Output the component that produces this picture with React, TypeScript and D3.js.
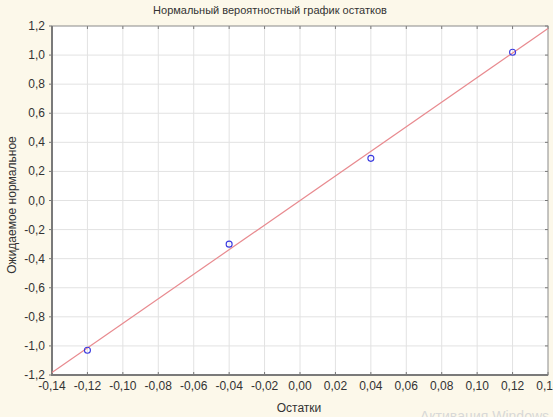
import React from "react";
import * as d3 from "d3";

const title = "Нормальный вероятностный график остатков";
const xLabel = "Остатки";
const yLabel = "Ожидаемое нормальное";
const residuals = [-0.12, -0.04, 0.04, 0.12];
const expectedNormal = [-1.03, -0.3, 0.29, 1.02];
const lineSlope = [8.45];
const lineIntercept = [0];
const xTicks = [-0.14, -0.12, -0.1, -0.08, -0.06, -0.04, -0.02, 0, 0.02, 0.04, 0.06, 0.08, 0.1, 0.12, 0.14];
const yTicks = [-1.2, -1.0, -0.8, -0.6, -0.4, -0.2, 0, 0.2, 0.4, 0.6, 0.8, 1.0, 1.2];
const watermark = "Активация Windows";

const W = 553, H = 417;
const L = 52, R = 548, T = 26, B = 375;

export default function App() {
  const x = d3.scaleLinear().domain([-0.14, 0.14]).range([L, R]);
  const y = d3.scaleLinear().domain([-1.2, 1.2]).range([B, T]);
  const fmt = (v: number, d: number) => v.toFixed(d).replace(".", ",").replace(/^-0,0+$/, (m) => m.slice(1)).replace("-0,00", "0,00");
  const lineX = x.domain();
  const linePath = d3.line<number>()
    .x((v) => x(v))
    .y((v) => y(lineSlope[0] * v + lineIntercept[0]))(lineX);
  const font = "'Liberation Sans', Arial, sans-serif";
  return (
    <svg width={W} height={H} style={{ position: "absolute", left: 0, top: 0, display: "block" }}>
      <rect width={W} height={H} fill="#fcf8ea" />
      <rect x={L} y={T} width={R - L} height={B - T} fill="#ffffff" />
      {xTicks.slice(1, -1).map((t) => (
        <line key={"gx" + t} x1={x(t)} x2={x(t)} y1={T} y2={B} stroke="#e2e2e2" strokeWidth={1} />
      ))}
      {yTicks.slice(1, -1).map((t) => (
        <line key={"gy" + t} x1={L} x2={R} y1={y(t)} y2={y(t)} stroke="#e2e2e2" strokeWidth={1} />
      ))}
      {xTicks.map((t) => (
        <g key={"tx" + t}>
          <line x1={x(t)} x2={x(t)} y1={T} y2={T + 3} stroke="#777" />
          <line x1={x(t)} x2={x(t)} y1={B} y2={B - 3} stroke="#777" />
        </g>
      ))}
      {yTicks.map((t) => (
        <g key={"ty" + t}>
          <line x1={L - 3} x2={L} y1={y(t)} y2={y(t)} stroke="#777" />
          <line x1={R} x2={R - 3} y1={y(t)} y2={y(t)} stroke="#777" />
        </g>
      ))}
      <rect x={L} y={T} width={R - L} height={B - T} fill="none" stroke="#8a8a8a" strokeWidth={1} />
      <line x1={L} x2={L} y1={T} y2={B + 1} stroke="#7a7a7a" strokeWidth={2} />
      <line x1={L - 1} x2={R} y1={B} y2={B} stroke="#7a7a7a" strokeWidth={2} />
      <path d={linePath ?? ""} fill="none" stroke="#e88a8f" strokeWidth={1.2} />
      {residuals.map((r, i) => (
        <circle key={"p" + i} cx={x(r)} cy={y(expectedNormal[i])} r={3} fill="none" stroke="#3a3ae0" strokeWidth={1.1} />
      ))}
      {xTicks.map((t) => (
        <text key={"lx" + t} x={x(t)} y={390} textAnchor="middle" fontFamily={font} fontSize={12} fill="#333">
          {t.toFixed(2).replace(".", ",").replace("-0,00", "0,00")}
        </text>
      ))}
      {yTicks.map((t) => (
        <text key={"ly" + t} x={45} y={y(t) + 4} textAnchor="end" fontFamily={font} fontSize={12} fill="#333">
          {t.toFixed(1).replace(".", ",").replace("-0,0", "0,0")}
        </text>
      ))}
      <text x={270} y={14} textAnchor="middle" fontFamily={font} fontSize={11} fill="#333">{title}</text>
      <text x={299} y={412} textAnchor="middle" fontFamily={font} fontSize={12} fill="#333">{xLabel}</text>
      <text transform={`translate(16,${205}) rotate(-90)`} textAnchor="middle" fontFamily={font} fontSize={12} fill="#333">{yLabel}</text>
      <text x={420} y={421} fontFamily={font} fontSize={14} fill="#d8d8d8">{watermark}</text>
    </svg>
  );
}
